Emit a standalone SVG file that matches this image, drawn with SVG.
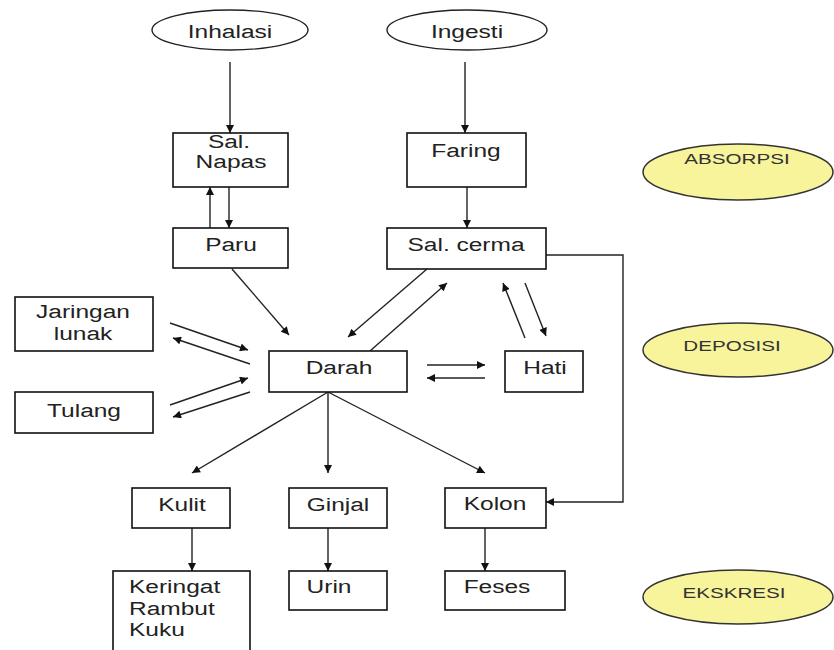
<svg xmlns="http://www.w3.org/2000/svg" width="834" height="650" viewBox="0 0 834 650">
<style>
.bx{fill:#fff;stroke:#111;stroke-width:1.6}
.el{fill:#fff;stroke:#222;stroke-width:1.4}
.yel{fill:#f8f49c;stroke:#333;stroke-width:1.5}
.t{font-family:"Liberation Sans",Arial,sans-serif;font-size:19px;fill:#222;text-anchor:middle}
.ts{font-family:"Liberation Sans",Arial,sans-serif;font-size:15.5px;fill:#333;text-anchor:middle}
.tl{font-family:"Liberation Sans",Arial,sans-serif;font-size:19px;fill:#222}
.ln{fill:none;stroke:#222;stroke-width:1.4;marker-end:url(#ah)}
.pl{fill:none;stroke:#222;stroke-width:1.4}
</style>
<defs>
<marker id="ah" viewBox="0 0 10 10" refX="10" refY="5" markerWidth="9" markerHeight="8" markerUnits="userSpaceOnUse" orient="auto">
<path d="M0,0 L10,5 L0,10 z" fill="#111"/>
</marker>
</defs>
<rect width="834" height="650" fill="#fff"/>

<g id="connectors">
<line class="ln" x1="230" y1="62" x2="230" y2="133"/>
<line class="ln" x1="465" y1="62" x2="465" y2="133"/>
<line class="ln" x1="210" y1="228" x2="210" y2="187"/>
<line class="ln" x1="229" y1="187" x2="229" y2="228"/>
<line class="ln" x1="467" y1="187" x2="467" y2="228"/>
<line class="ln" x1="232" y1="269" x2="289" y2="335"/>
<line class="ln" x1="427" y1="269" x2="348" y2="337"/>
<line class="ln" x1="370" y1="351" x2="447" y2="283"/>
<line class="ln" x1="170" y1="323" x2="248" y2="350"/>
<line class="ln" x1="250" y1="364" x2="173" y2="338"/>
<line class="ln" x1="170" y1="405" x2="248" y2="378"/>
<line class="ln" x1="250" y1="392" x2="173" y2="417"/>
<line class="ln" x1="427" y1="365" x2="485" y2="365"/>
<line class="ln" x1="485" y1="378" x2="427" y2="378"/>
<line class="ln" x1="525" y1="338" x2="503" y2="283"/>
<line class="ln" x1="525" y1="283" x2="546" y2="336"/>
<line class="ln" x1="328" y1="392" x2="192" y2="473"/>
<line class="ln" x1="328" y1="392" x2="328" y2="473"/>
<line class="ln" x1="328" y1="392" x2="485" y2="473"/>
<line class="ln" x1="192" y1="528" x2="192" y2="571"/>
<line class="ln" x1="328" y1="528" x2="328" y2="571"/>
<line class="ln" x1="485" y1="528" x2="485" y2="571"/>
<path class="ln" d="M546,255 H623 V502 H546"/>
</g>

<g id="inhalasi"><ellipse class="el" cx="230" cy="30" rx="78" ry="20"/><text class="t" transform="translate(230,38) scale(1.29 1)">Inhalasi</text></g>
<g id="ingesti"><ellipse class="el" cx="467" cy="30" rx="80" ry="20"/><text class="t" transform="translate(467,38) scale(1.29 1)">Ingesti</text></g>

<g id="sal-napas"><rect class="bx" x="173" y="133" width="115" height="54"/><text class="t" transform="translate(229,148) scale(1.29 1)">Sal.</text><text class="t" transform="translate(231,168) scale(1.29 1)">Napas</text></g>
<g id="faring"><rect class="bx" x="407" y="133" width="119" height="54"/><text class="t" transform="translate(466,157) scale(1.29 1)">Faring</text></g>
<g id="paru"><rect class="bx" x="173" y="228" width="115" height="40"/><text class="t" transform="translate(231,251) scale(1.29 1)">Paru</text></g>
<g id="sal-cerma"><rect class="bx" x="387" y="228" width="159" height="41"/><text class="t" transform="translate(466,251) scale(1.29 1)">Sal. cerma</text></g>

<g id="jaringan-lunak"><rect class="bx" x="15" y="297" width="138" height="54"/><text class="t" transform="translate(83,318) scale(1.29 1)">Jaringan</text><text class="t" transform="translate(83,340) scale(1.29 1)">lunak</text></g>
<g id="tulang"><rect class="bx" x="15" y="392" width="138" height="41"/><text class="t" transform="translate(84,417) scale(1.29 1)">Tulang</text></g>
<g id="darah"><rect class="bx" x="269" y="351" width="138" height="41"/><text class="t" transform="translate(339,374) scale(1.29 1)">Darah</text></g>
<g id="hati"><rect class="bx" x="505" y="351" width="78" height="41"/><text class="t" transform="translate(545,374) scale(1.29 1)">Hati</text></g>

<g id="kulit"><rect class="bx" x="132" y="488" width="98" height="40"/><text class="t" transform="translate(182,511) scale(1.29 1)">Kulit</text></g>
<g id="ginjal"><rect class="bx" x="289" y="488" width="98" height="40"/><text class="t" transform="translate(338,511) scale(1.29 1)">Ginjal</text></g>
<g id="kolon"><rect class="bx" x="445" y="488" width="101" height="40"/><text class="t" transform="translate(495,510) scale(1.29 1)">Kolon</text></g>

<g id="keringat"><rect class="bx" x="113" y="571" width="137" height="90"/><text class="tl" transform="translate(129,593) scale(1.29 1)">Keringat</text><text class="tl" transform="translate(129,615) scale(1.29 1)">Rambut</text><text class="tl" transform="translate(129,636) scale(1.29 1)">Kuku</text></g>
<g id="urin"><rect class="bx" x="289" y="571" width="98" height="39"/><text class="t" transform="translate(329,593) scale(1.29 1)">Urin</text></g>
<g id="feses"><rect class="bx" x="445" y="571" width="120" height="39"/><text class="t" transform="translate(497,593) scale(1.29 1)">Feses</text></g>

<g id="absorpsi"><ellipse class="yel" cx="738" cy="172" rx="95" ry="28"/><text class="ts" transform="translate(737,164) scale(1.33 1)">ABSORPSI</text></g>
<g id="deposisi"><ellipse class="yel" cx="738" cy="350" rx="95" ry="27"/><text class="ts" transform="translate(732,351) scale(1.33 1)">DEPOSISI</text></g>
<g id="ekskresi"><ellipse class="yel" cx="738" cy="597" rx="95" ry="27"/><text class="ts" transform="translate(734,598) scale(1.33 1)">EKSKRESI</text></g>
</svg>
